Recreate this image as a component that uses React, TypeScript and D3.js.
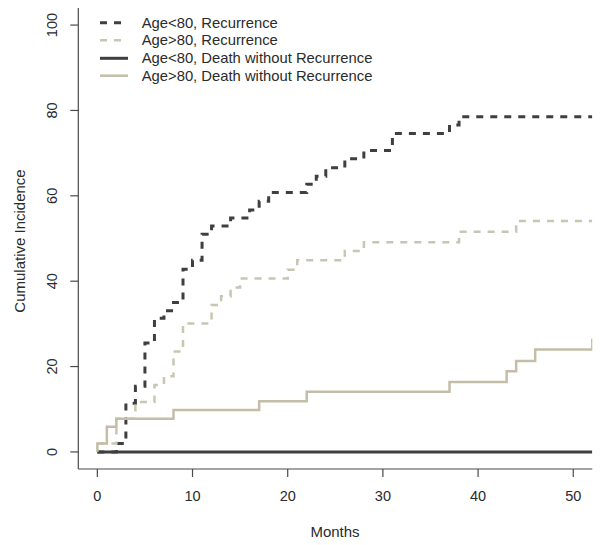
import React from "react";
import * as d3 from "d3";

// Step functions: time (months) at which the cumulative incidence jumps to the given value
const lt80RecTimes = [0, 2, 3, 4, 5, 6, 7, 8, 9, 10, 11, 12, 14, 16, 17, 18, 22, 23, 24, 26, 28, 31, 37, 38];
const lt80RecValues = [0, 2.0, 11.4, 15.4, 25.5, 31.3, 33.1, 35.0, 42.8, 44.9, 51.0, 52.9, 54.8, 56.7, 58.7, 60.8, 62.7, 64.6, 66.6, 68.7, 70.6, 74.6, 76.6, 78.5];

const gt80RecTimes = [0, 2, 4, 6, 7, 8, 9, 12, 13, 14, 15, 20, 21, 26, 28, 38, 44];
const gt80RecValues = [2.0, 7.8, 11.7, 15.7, 17.7, 23.5, 30.1, 34.4, 36.5, 38.5, 40.6, 42.7, 44.9, 47.1, 49.1, 51.6, 54.1];

const lt80DeathTimes = [0];
const lt80DeathValues = [0];

const gt80DeathTimes = [0, 0, 1, 2, 8, 17, 22, 37, 43, 44, 46, 52];
const gt80DeathValues = [0, 2.0, 5.9, 7.8, 9.8, 11.9, 14.1, 16.4, 18.9, 21.3, 24.0, 26.6];

const endTime = 52;

const xTicks = [0, 10, 20, 30, 40, 50];
const yTicks = [0, 20, 40, 60, 80, 100];

const legendLabels = [
  "Age<80, Recurrence",
  "Age>80, Recurrence",
  "Age<80, Death without Recurrence",
  "Age>80, Death without Recurrence",
];

const DARK = "#3f3f3f";
const LIGHT = "#c4bea8";
const LIGHT_DASH = "#c8c6b2";
const FONT = "'Liberation Sans', Arial, sans-serif";

export default function App() {
  const W = 603;
  const H = 545;
  const left = 78.3;
  const right = 592.3;
  const top = 8;
  const bottom = 469;

  const x = d3.scaleLinear().domain([-2, 52]).range([left, right]);
  const y = d3.scaleLinear().domain([-4, 104]).range([bottom, top]);

  const line = d3
    .line<[number, number]>()
    .x((d) => x(d[0]))
    .y((d) => y(d[1]))
    .curve(d3.curveStepAfter);

  const mk = (times: number[], values: number[]) => {
    const pts: [number, number][] = times.map((t, i) => [t, values[i]]);
    const last = pts[pts.length - 1];
    if (last[0] < endTime) pts.push([endTime, last[1]]);
    return line(pts) || "";
  };

  const series = [
    { d: mk(lt80RecTimes, lt80RecValues), color: DARK, width: 3, dash: "7,7" },
    { d: mk(gt80RecTimes, gt80RecValues), color: LIGHT_DASH, width: 2.5, dash: "7,7" },
    { d: mk(lt80DeathTimes, lt80DeathValues), color: DARK, width: 3, dash: undefined },
    { d: mk(gt80DeathTimes, gt80DeathValues), color: LIGHT, width: 2.5, dash: undefined },
  ];

  const legendY = [22.7, 40.3, 58.3, 75.7];

  return (
    <svg
      width={W}
      height={H}
      style={{ position: "absolute", left: 0, top: 0, background: "#fff" }}
      fontFamily={FONT}
    >
      <defs>
        <clipPath id="plotclip">
          <rect x={left} y={top} width={right - left} height={bottom - top} />
        </clipPath>
      </defs>
      <rect x={0} y={0} width={W} height={H} fill="#fff" />

      {/* axes (L-shaped box) */}
      <line x1={left} y1={top} x2={left} y2={bottom} stroke="#4a4a4a" strokeWidth={1.2} />
      <line x1={left} y1={bottom} x2={right} y2={bottom} stroke="#4a4a4a" strokeWidth={1.2} />

      {yTicks.map((t) => (
        <g key={"y" + t}>
          <line x1={left - 8} x2={left} y1={y(t)} y2={y(t)} stroke="#4a4a4a" strokeWidth={1.2} />
          <text
            transform={`translate(56.5,${y(t)}) rotate(-90)`}
            textAnchor="middle"
            fontSize={14.5}
            fill="#2b2b2b"
          >
            {t}
          </text>
        </g>
      ))}

      {xTicks.map((t) => (
        <g key={"x" + t}>
          <line x1={x(t)} x2={x(t)} y1={bottom} y2={bottom + 8} stroke="#4a4a4a" strokeWidth={1.2} />
          <text x={x(t)} y={500.7} textAnchor="middle" fontSize={14.5} fill="#2b2b2b">
            {t}
          </text>
        </g>
      ))}

      <text
        transform={`translate(25,241) rotate(-90)`}
        textAnchor="middle"
        fontSize={15}
        fill="#2b2b2b"
      >
        Cumulative Incidence
      </text>
      <text x={335} y={536.5} textAnchor="middle" fontSize={15} fill="#2b2b2b">
        Months
      </text>

      <g clipPath="url(#plotclip)">
        {series.map((s, i) => (
          <path
            key={i}
            d={s.d}
            fill="none"
            stroke={s.color}
            strokeWidth={s.width}
            strokeDasharray={s.dash}
            strokeLinejoin="miter"
            strokeLinecap="butt"
          />
        ))}
      </g>

      {/* legend */}
      {legendLabels.map((lab, i) => {
        const s = series[i];
        return (
          <g key={lab}>
            <line
              x1={100}
              x2={128}
              y1={legendY[i]}
              y2={legendY[i]}
              stroke={s.color}
              strokeWidth={s.width}
              strokeDasharray={s.dash}
            />
            <text x={141.7} y={legendY[i] + 5} fontSize={14.8} fill="#2b2b2b">
              {lab}
            </text>
          </g>
        );
      })}
    </svg>
  );
}
